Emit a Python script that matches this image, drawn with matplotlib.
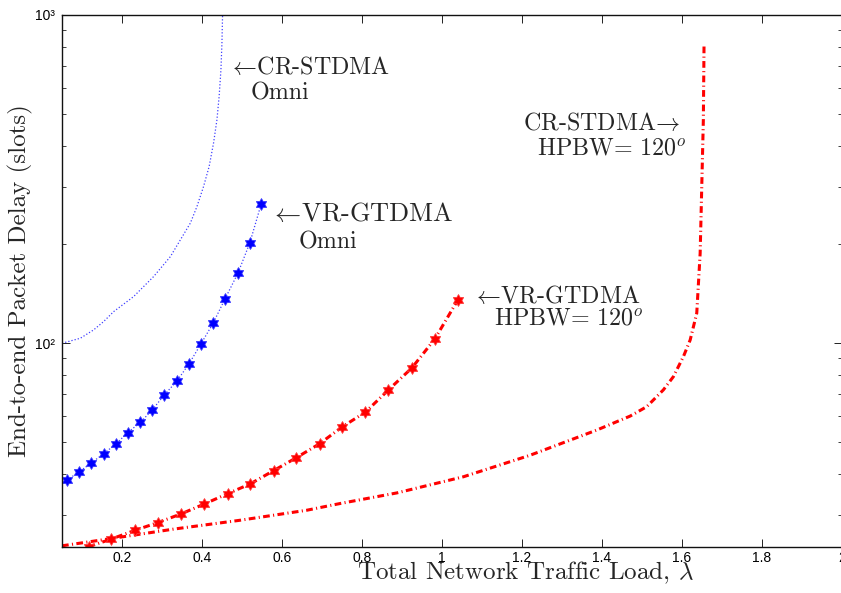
import numpy as np
import matplotlib
matplotlib.use("Agg")
import matplotlib.pyplot as plt
from matplotlib.path import Path
from matplotlib.ticker import FixedLocator, FixedFormatter, NullFormatter

# ---------------- data ----------------
# CR-STDMA, Omni (blue dotted curve)
cr_omni_x = [0.05, 0.096, 0.129, 0.154, 0.179, 0.229, 0.279, 0.321, 0.346, 0.371,
             0.3875, 0.404, 0.418, 0.429, 0.4375, 0.443, 0.4475, 0.45, 0.4515, 0.4525]
cr_omni_y = [100, 103.6, 109.8, 116.4, 124.8, 138.7, 159.6, 183.6, 206.5, 232.3,
             260.9, 300.2, 345.5, 407.2, 479.6, 564.9, 681.1, 821.6, 990, 1150]

# VR-GTDMA, Omni (blue hexagram markers)
vr_omni_x = [0.0625, 0.093, 0.122, 0.154, 0.184, 0.214, 0.246, 0.276, 0.305,
             0.338, 0.368, 0.397, 0.428, 0.457, 0.49, 0.52, 0.548]
vr_omni_y = [38.3, 40.6, 43.05, 46.1, 49.2, 53.4, 57.4, 62.7, 69.4,
             76.9, 86.7, 99.3, 115.1, 136.0, 163.5, 202.6, 265.3]

# VR-GTDMA, HPBW = 120 (red hexagram markers)
vr_hp_x = [0.1165, 0.1725, 0.2315, 0.289, 0.3475, 0.404, 0.464, 0.521, 0.579,
           0.636, 0.694, 0.7515, 0.809, 0.8665, 0.925, 0.9825, 1.04]
vr_hp_y = [24.0, 25.3, 26.9, 28.4, 30.2, 32.3, 34.8, 37.3, 40.9,
           44.8, 49.4, 55.7, 61.7, 72.1, 84.1, 103.1, 135.5]

# CR-STDMA, HPBW = 120 (red dash-dot curve)
cr_hp_x = [0.05, 0.1625, 0.329, 0.496, 0.6625, 0.746, 0.8875, 1.054, 1.221,
           1.3875, 1.471, 1.5125, 1.554, 1.579, 1.604, 1.621, 1.6375, 1.646,
           1.65, 1.654, 1.6557]
cr_hp_y = [24.15, 25.3, 27.15, 28.9, 31.0, 32.5, 35.0, 39.2, 45.6,
           54.4, 60.0, 64.1, 72.1, 79.1, 91.0, 102.3, 123.5, 188.1,
           300.2, 479.6, 812]

x_ticks = [0.2, 0.4, 0.6, 0.8, 1.0, 1.2, 1.4, 1.6, 1.8, 2.0]
x_tick_labels = ["0.2", "0.4", "0.6", "0.8", "1", "1.2", "1.4", "1.6", "1.8", "2"]
y_major = [100, 1000]
y_major_labels = ["10\u00b2", "10\u00b3"]
y_minor = [30, 40, 50, 60, 70, 80, 90, 200, 300, 400, 500, 600, 700, 800, 900]

# ---------------- figure ----------------
plt.rcParams["font.family"] = ["Liberation Sans", "DejaVu Sans"]
W, H = 841, 593
fig = plt.figure(figsize=(W / 100, H / 100), dpi=100)
ax_left, ax_right, ax_top, ax_bot = 62, 841.7, 15, 546.7
ax = fig.add_axes([ax_left / W, 1 - ax_bot / H, (ax_right - ax_left) / W, (ax_bot - ax_top) / H])

hexagram = Path.unit_regular_star(6, 0.5774)
TXT = "#262626"
SERIF = ["cmr10", "DejaVu Serif"]

ax.plot(cr_omni_x, cr_omni_y, color="#4040ff", lw=0.9, linestyle=(0, (1.0, 1.6)))
ax.plot(vr_omni_x, vr_omni_y, color="#4040ff", lw=0.9, linestyle=(0, (1.0, 1.6)))
ax.plot(vr_omni_x, vr_omni_y, linestyle="none", marker=hexagram, ms=8.5,
        mfc="#0000ff", mec="#3a3aff", mew=0.6)

dashdot = (0, (2.2, 1.1, 0.35, 1.1))
ax.plot(cr_hp_x, cr_hp_y, color="#ff0000", lw=2.2, linestyle=dashdot)
ax.plot(vr_hp_x, vr_hp_y, color="#ff0000", lw=2.2, linestyle=dashdot)
ax.plot(vr_hp_x, vr_hp_y, linestyle="none", marker=hexagram, ms=8.5,
        mfc="#ff0000", mec="#ff3a3a", mew=0.6)

ax.set_yscale("log")
ax.set_xlim(0.05, 2.0)
ax.set_ylim(24, 1000)

ax.xaxis.set_major_locator(FixedLocator(x_ticks))
ax.xaxis.set_major_formatter(FixedFormatter(x_tick_labels))
ax.yaxis.set_major_locator(FixedLocator(y_major))
ax.yaxis.set_major_formatter(FixedFormatter(y_major_labels))
ax.yaxis.set_minor_locator(FixedLocator(y_minor))
ax.yaxis.set_minor_formatter(NullFormatter())

ax.tick_params(which="both", direction="in", top=True, right=True, color="#222222")
ax.tick_params(which="major", length=5.5, width=0.7, labelsize=10)
ax.tick_params(axis="x", which="major", pad=3)
ax.tick_params(axis="y", which="major", pad=5)
ax.tick_params(which="minor", length=3, width=0.6)
for s in ax.spines.values():
    s.set_linewidth(1.0)
    s.set_color("#111111")

# axis labels
ax.set_xlabel(r"Total Network Traffic Load, $\lambda$", family=SERIF,
              math_fontfamily="cm", fontsize=18, color=TXT)
ax.xaxis.label.set_va("baseline")
ax.xaxis.label.set_ha("center")
ax.xaxis.set_label_coords((525 - ax_left) / (ax_right - ax_left),
                          (ax_bot - 579) / (ax_bot - ax_top))
ax.set_ylabel("End-to-end Packet Delay (slots)", family=SERIF,
              math_fontfamily="cm", fontsize=18, color=TXT)
ax.yaxis.label.set_va("center")
ax.yaxis.set_label_coords((20 - ax_left) / (ax_right - ax_left), 0.5)

# annotations
def note(x, y, s, size=17.3):
    ax.text(x, y, s, family=SERIF, math_fontfamily="cm", fontsize=size,
            color=TXT, ha="left", va="baseline")

note(0.4658, 662, r"$\leftarrow\!$CR-STDMA")
note(0.5225, 552, "Omni")
note(0.571, 236.5, r"$\leftarrow\!$VR-GTDMA", size=18.9)
note(0.6415, 194.9, "Omni")
note(1.075, 132.4, r"$\leftarrow\!$VR-GTDMA")
note(1.131, 113.7, r"HPBW= 120$^o$")
note(1.204, 446.9, r"CR-STDMA$\!\rightarrow$")
note(1.2375, 375, r"HPBW= 120$^o$")

fig.savefig("out.png", dpi=100)
